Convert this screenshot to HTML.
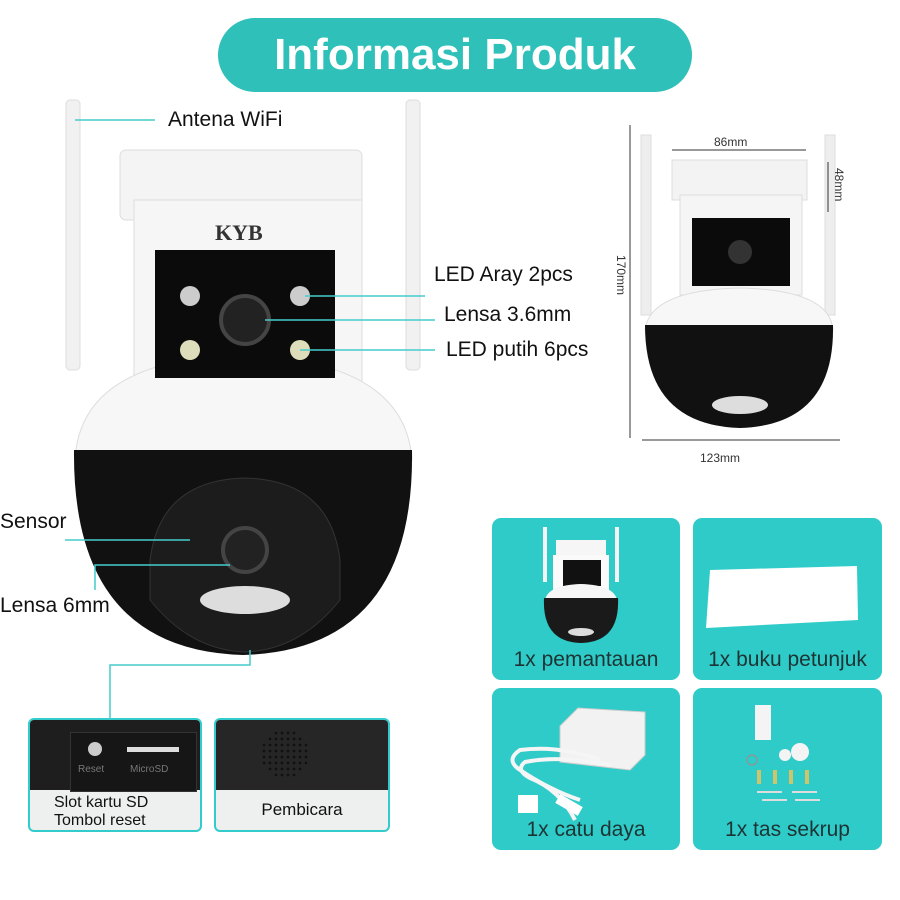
<!DOCTYPE html>
<html><head><meta charset="utf-8"><style>
body{margin:0;width:900px;height:900px;background:#fff;position:relative;overflow:hidden;font-family:"Liberation Sans",sans-serif}
.a{position:absolute}
.lbl{position:absolute;font-size:21px;color:#111}
.box{position:absolute;background:#2ecbc8;border-radius:9px}
.box .t{position:absolute;left:0;right:0;bottom:8px;text-align:center;font-size:21px;color:#1e3434}
</style></head><body>
<div class="a" style="left:218px;top:18px;width:474px;height:74px;border-radius:37px;background:#2fc0b9"></div>
<div class="a" style="left:218px;top:30px;width:474px;text-align:center;color:#fff;font-weight:bold;font-size:44px">Informasi Produk</div>

<div class="box" style="left:492px;top:518px;width:188px;height:162px"><div class="t">1x pemantauan</div></div>
<div class="box" style="left:693px;top:518px;width:189px;height:162px"><div class="t">1x buku petunjuk</div></div>
<div class="box" style="left:492px;top:688px;width:188px;height:162px"><div class="t">1x catu daya</div></div>
<div class="box" style="left:693px;top:688px;width:189px;height:162px"><div class="t">1x tas sekrup</div></div>

<div class="a" style="left:28px;top:718px;width:170px;height:110px;border:2px solid #3cc;border-radius:6px;background:#eef0f0;overflow:hidden">
 <div class="a" style="left:0;top:0;width:170px;height:70px;background:#1e1e1e"></div>
 <div class="a" style="left:40px;top:12px;width:125px;height:58px;background:#161616;border:1px solid #333"></div>
 <div class="a" style="left:58px;top:22px;width:14px;height:14px;border-radius:7px;background:#ccc"></div>
 <div class="a" style="left:97px;top:27px;width:52px;height:5px;background:#ddd"></div>
 <div class="a" style="left:48px;top:44px;font-size:10px;color:#777">Reset</div>
 <div class="a" style="left:100px;top:44px;font-size:10px;color:#777">MicroSD</div>
 <div class="a" style="left:24px;top:74px;font-size:16px;line-height:18px;color:#111">Slot kartu SD<br>Tombol reset</div>
</div>
<div class="a" style="left:214px;top:718px;width:172px;height:110px;border:2px solid #3cc;border-radius:6px;background:#eef0f0;overflow:hidden">
 <div class="a" style="left:0;top:0;width:172px;height:70px;background:#262626"></div>
 <div class="a" style="left:45px;top:10px;width:48px;height:48px;border-radius:24px;background:radial-gradient(#111 1.2px,transparent 1.6px) 0 0/6px 6px"></div>
 <div class="a" style="left:0;top:80px;width:172px;text-align:center;font-size:17px;color:#111">Pembicara</div>
</div>

<svg class="a" style="left:0;top:0" width="900" height="900">
<rect x="66" y="100" width="14" height="270" rx="4" fill="#f1f1f1" stroke="#ddd"/>
<rect x="406" y="100" width="14" height="270" rx="4" fill="#f1f1f1" stroke="#ddd"/>
<rect x="120" y="150" width="242" height="70" rx="6" fill="#f4f4f4" stroke="#ddd"/>
<rect x="134" y="200" width="228" height="190" fill="#f6f6f6" stroke="#ddd"/>
<path d="M75 460 Q80 360 240 355 Q405 360 412 460 Z" fill="#f7f7f7" stroke="#ddd"/>
<path d="M74 450 L412 450 Q415 650 243 655 Q72 650 74 450Z" fill="#111"/>
<path d="M150 560 Q160 480 245 478 Q330 480 340 560 L340 600 Q300 650 245 652 Q190 650 150 600Z" fill="#1c1c1c" stroke="#333"/>
<rect x="155" y="250" width="180" height="128" fill="#0b0b0b"/>
<circle cx="190" cy="296" r="10" fill="#ccc"/><circle cx="300" cy="296" r="10" fill="#ccc"/>
<circle cx="190" cy="350" r="10" fill="#ddb"/><circle cx="300" cy="350" r="10" fill="#ddb"/>
<circle cx="245" cy="320" r="24" fill="#222" stroke="#444" stroke-width="4"/>
<circle cx="245" cy="550" r="22" fill="#222" stroke="#444" stroke-width="4"/>
<ellipse cx="245" cy="600" rx="45" ry="14" fill="#ddd"/>
<text x="215" y="240" font-family="Liberation Serif" font-size="22" font-weight="bold" fill="#333">KYB</text>
<g stroke="#4cc" stroke-width="1.5" fill="none">
<line x1="75" y1="120" x2="155" y2="120"/>
<line x1="305" y1="296" x2="425" y2="296"/>
<line x1="265" y1="320" x2="435" y2="320"/>
<line x1="300" y1="350" x2="435" y2="350"/>
<line x1="65" y1="540" x2="190" y2="540"/>
<polyline points="95,590 95,565 230,565"/>
<polyline points="110,720 110,665 250,665 250,650"/>
</g>
<!-- small camera -->
<rect x="641" y="135" width="10" height="180" fill="#eee" stroke="#ddd"/>
<rect x="825" y="135" width="10" height="180" fill="#eee" stroke="#ddd"/>
<rect x="672" y="160" width="135" height="40" fill="#f3f3f3" stroke="#ddd"/>
<rect x="680" y="195" width="122" height="100" fill="#f5f5f5" stroke="#ddd"/>
<rect x="692" y="218" width="98" height="68" fill="#0b0b0b"/>
<circle cx="740" cy="252" r="12" fill="#333"/>
<path d="M645 330 Q650 290 740 288 Q830 290 833 330Z" fill="#f7f7f7" stroke="#ddd"/>
<path d="M645 325 L833 325 Q835 425 740 428 Q645 425 645 325Z" fill="#111"/>
<ellipse cx="740" cy="405" rx="28" ry="9" fill="#ddd"/>
<g stroke="#333" stroke-width="1" fill="none">
<line x1="672" y1="150" x2="806" y2="150"/><line x1="828" y1="162" x2="828" y2="212"/>
<line x1="630" y1="125" x2="630" y2="438"/><line x1="642" y1="440" x2="840" y2="440"/>
</g>
<text x="714" y="146" font-size="12" fill="#333">86mm</text>
<text x="700" y="462" font-size="12" fill="#333">123mm</text>
<text x="835" y="168" font-size="12" fill="#333" transform="rotate(90 835 168)">48mm</text>
<text x="617" y="255" font-size="12" fill="#333" transform="rotate(90 617 255)">170mm</text>

<!-- box 1 camera -->
<rect x="543" y="527" width="4" height="55" fill="#f4f4f4"/><rect x="615" y="527" width="4" height="55" fill="#f4f4f4"/>
<rect x="556" y="540" width="50" height="20" fill="#f6f6f6"/>
<rect x="553" y="555" width="56" height="35" fill="#fafafa"/>
<rect x="563" y="560" width="38" height="26" fill="#111"/>
<path d="M545 600 Q548 585 581 584 Q614 585 617 600Z" fill="#f6f6f6"/>
<path d="M544 598 L618 598 Q620 642 581 643 Q542 642 544 598Z" fill="#1a1a1a"/>
<ellipse cx="581" cy="632" rx="13" ry="4" fill="#ddd"/>
<!-- box 2 paper -->
<polygon points="710,570 857,566 858,620 706,628" fill="#fff"/>
<!-- box 3 power -->
<polygon points="560,726 578,708 645,712 645,755 630,770 560,762" fill="#f2f2f2" stroke="#ccc"/>
<path d="M600 760 Q560 745 520 750 Q505 760 520 770 Q550 790 580 800" stroke="#f5f5f5" stroke-width="4" fill="none"/>
<path d="M610 765 Q560 755 525 762 Q515 770 530 778 Q560 790 575 820" stroke="#f5f5f5" stroke-width="4" fill="none"/>
<rect x="518" y="795" width="20" height="18" fill="#fff"/>
<rect x="556" y="800" width="26" height="10" fill="#fff" transform="rotate(30 569 805)"/>
<!-- box 4 screws -->
<rect x="755" y="705" width="16" height="35" fill="#f4f4f4"/>
<circle cx="785" cy="755" r="6" fill="#f4f4f4"/><circle cx="800" cy="752" r="9" fill="#f4f4f4"/>
<circle cx="752" cy="760" r="5" fill="none" stroke="#a88"/>
<g fill="#cfc46a"><rect x="757" y="770" width="4" height="14"/><rect x="773" y="770" width="4" height="14"/><rect x="789" y="770" width="4" height="14"/><rect x="805" y="770" width="4" height="14"/></g>
<g stroke="#ddd" stroke-width="2"><line x1="757" y1="792" x2="782" y2="792"/><line x1="792" y1="792" x2="817" y2="792"/><line x1="762" y1="800" x2="787" y2="800"/><line x1="795" y1="800" x2="820" y2="800"/></g>
</svg>
<div class="lbl" style="left:168px;top:108px">Antena WiFi</div>
<div class="lbl" style="left:434px;top:263px">LED Aray 2pcs</div>
<div class="lbl" style="left:444px;top:303px">Lensa 3.6mm</div>
<div class="lbl" style="left:446px;top:338px">LED putih 6pcs</div>
<div class="lbl" style="left:0;top:510px">Sensor</div>
<div class="lbl" style="left:0;top:594px">Lensa 6mm</div>
</body></html>
